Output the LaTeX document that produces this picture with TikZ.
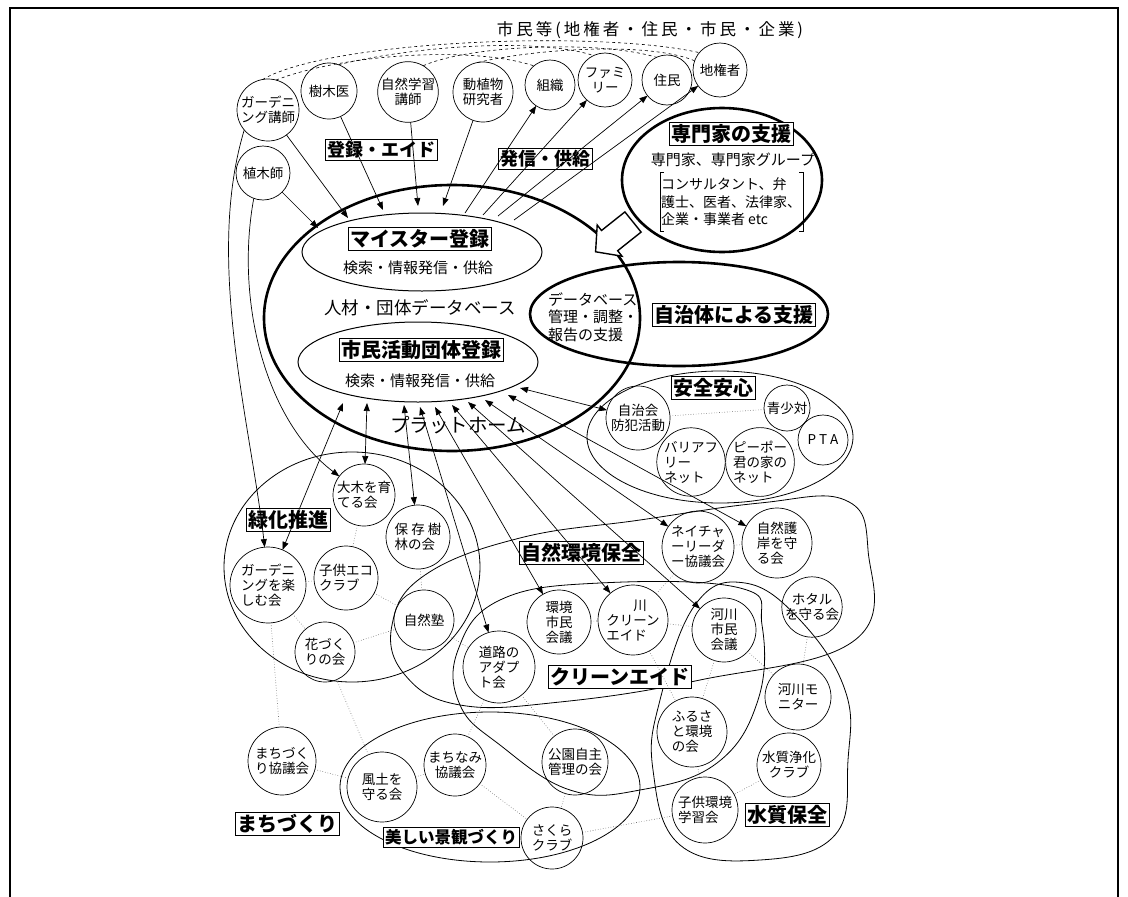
\documentclass[tikz,border=0pt]{standalone}
\usepackage{fontspec}
\setmainfont{Noto Sans CJK JP}
\usetikzlibrary{shapes.geometric,shapes.arrows,arrows.meta}
\begin{document}
\begin{tikzpicture}[x=1pt,y=-1pt,
  every node/.style={inner sep=0pt,outer sep=0pt},
  cc/.style={circle,draw,line width=0.7pt,minimum size=#1,font=\fontsize{13.5}{15}\selectfont,align=center},
  ccl/.style={cc=#1,align=left},
  lab/.style={draw,line width=0.8pt,fill=white,inner xsep=2pt,inner ysep=2pt,font=\fontsize{20}{22}\selectfont\bfseries},
  labt/.style={draw,line width=0.8pt,inner xsep=2pt,inner ysep=2pt,font=\fontsize{18}{20}\selectfont\bfseries},
  thk/.style={draw,line width=2.6pt},
  grp/.style={draw,line width=0.8pt},
  arr/.style={line width=0.7pt,-{Triangle[length=8pt,width=6pt]}},
  barr/.style={line width=0.7pt,{Triangle[length=8pt,width=6pt]}-{Triangle[length=8pt,width=6pt]}},
  dotl/.style={dotted,line width=0.6pt,black!60},
  dsh/.style={dashed,line width=0.6pt},
  txt/.style={font=\fontsize{15}{17.5}\selectfont}
]
\useasboundingbox (0,0) rectangle (1128,897);
\draw[line width=1.3pt] (10,905) -- (10,8) -- (1118,8) -- (1118,905);

% ---------- title and top circles
\node[font=\fontsize{16.5}{18}\selectfont\addfontfeature{LetterSpace=18}] (title) at (650,30) {市民等(地権者・住民・市民・企業)};
\node[cc=62] (garK) at (268,110) {ガーデニ\\ング講師};
\node[cc=56] (jumoku) at (329,91) {樹木医};
\node[cc=60] (shizenK) at (408,92) {自然学習\\講師};
\node[cc=60] (dosho) at (483,92) {動植物\\研究者};
\node[cc=50] (soshiki) at (550,85) {組織};
\node[cc=54] (family) at (605,80) {ファミ\\リー};
\node[cc=50] (jumin) at (667,80) {住民};
\node[cc=54] (chiken) at (720,70) {地権者};
\node[cc=54] (uekishi) at (263,173) {植木師};

\draw[dsh] (garK.100) .. controls (330,40) and (600,30) .. (chiken.140);
\draw[dsh] (garK.75) .. controls (340,55) and (470,45) .. (soshiki.130);
\draw[dsh] (jumoku.70) .. controls (420,45) and (540,38) .. (family.115);
\draw[dsh] (shizenK.60) .. controls (470,45) and (600,40) .. (jumin.115);
\draw[dsh] (dosho.100) .. controls (540,48) and (650,42) .. (chiken.160);

% ---------- platform
\node[ellipse,thk,minimum width=376,minimum height=266] (plat) at (452,318) {};
\node[ellipse,draw,line width=1pt,minimum width=240,minimum height=78] (meisE) at (422,252) {};
\node[ellipse,draw,line width=1pt,minimum width=240,minimum height=80] (shimE) at (418,362) {};
\node[lab] (meisL) at (420,239) {マイスター登録};
\node[txt] (meisT) at (418,268) {検索・情報発信・供給};
\node[font=\fontsize{17.5}{20}\selectfont] (jinzai) at (420,308) {人材・団体データベース};
\node[lab] (shimL) at (421,350) {市民活動団体登録};
\node[txt] (shimT) at (420,381) {検索・情報発信・供給};
\node[font=\fontsize{19.5}{22}\selectfont] (platT) at (458,425) {プラットホーム};

% ---------- experts
\node[ellipse,thk,minimum width=200,minimum height=144] (senE) at (722,180) {};
\node[lab] (senL) at (731,134) {専門家の支援};
\node[txt] (senT) at (733,160) {専門家、専門家グループ};
\node[align=left,font=\fontsize{14}{17.5}\selectfont] (senB) at (731,202) {コンサルタント、弁\\護士、医者、法律家、\\企業・事業者 etc};
\draw[line width=0.6pt] (664,172) -- (660,172) -- (660,231) -- (664,231);
\draw[line width=0.6pt] (799,172) -- (803,172) -- (803,231) -- (799,231);
% hollow block arrow pointing to the platform
\draw[line width=1.4pt,fill=white,line join=miter] (595.6,251.8) -- (622.0,256.2) -- (617.7,250.7) -- (641.1,232.1) -- (624.9,211.9) -- (601.5,230.5) -- (597.2,225.0) -- cycle;

% ---------- municipality
\node[ellipse,thk,minimum width=298,minimum height=104] (jitE) at (679,314) {};
\node[align=left,txt] (jitT) at (593,317) {データベース\\管理・調整・\\報告の支援};
\node[lab] (jitL) at (734,315) {自治体による支援};

% ---------- labels top arrows
\node[labt] (torokuL) at (381,150) {登録・エイド};
\node[labt] (hasshinL) at (545,159) {発信・供給};

\coordinate (t1) at (348,218);
\coordinate (t2) at (318,228);
\coordinate (t3) at (383,210);
\coordinate (t4) at (418,206);
\coordinate (t5) at (443,206);
\coordinate (f1) at (465,213);
\coordinate (f2) at (483,215);
\coordinate (f3) at (498,216);
\coordinate (f4) at (514,220);
\draw[arr] (garK) -- (t1);
\draw[arr] (uekishi) -- (t2);
\draw[arr] (jumoku) -- (t3);
\draw[arr] (shizenK) -- (t4);
\draw[arr] (dosho) -- (t5);
\draw[arr] (f1) -- (soshiki);
\draw[arr] (f2) -- (family);
\draw[arr] (f3) -- (jumin);
\draw[arr] (f4) -- (chiken);

% ---------- safety group
\node[ellipse,grp,minimum width=266,minimum height=132] (anzenE) at (720,437) {};
\node[lab] (anzenL) at (713,388) {安全安心};
\node[cc=64] (jichi) at (638,418) {自治会\\防犯活動};
\node[cc=46] (seisho) at (787,408) {青少対};
\node[cc=50] (pta) at (823,440) {P T A};
\node[ccl=68] (barrier) at (691,462) {バリアフ\\リー\\ネット};
\node[ccl=68] (pipo) at (760,462) {ピーポー\\君の家の\\ネット};
\draw[dotl] (jichi) -- (seisho);
\draw[dotl] (pta) -- (pipo);
\draw[dotl] (barrier) -- (pipo);

% ---------- greening group
\node[ellipse,grp,minimum width=256,minimum height=230] (ryokuE) at (352,567) {};
\node[lab] (ryokuL) at (288,520) {緑化推進};
\node[ccl=62] (oogi) at (364,495) {大木を育\\てる会};
\node[ccl=64] (hozon) at (418,537) {保 存 樹\\林の会};
\node[ccl=76] (gardenT) at (268,585) {ガーデニ\\ングを楽\\しむ会};
\node[ccl=64] (eco) at (346,578) {子供エコ\\クラブ};
\node[cc=60] (juku) at (424,620) {自然塾};
\node[ccl=60] (hana) at (325,652) {花づく\\りの会};

% ---------- nature / clean / water groups
\draw[grp] plot[smooth cycle,tension=0.7] coordinates {(392,625) (425,575) (520,538) (640,520) (760,503) (845,500) (868,550) (855,640) (700,680) (560,702) (460,705) (405,675)};
\draw[grp] plot[smooth cycle,tension=0.7] coordinates {(458,650) (500,600) (600,583) (740,588) (762,625) (758,700) (717,763) (640,790) (570,790) (500,745) (460,705)};
\draw[grp] plot[smooth cycle,tension=0.7] coordinates {(695,605) (745,583) (800,620) (845,690) (848,760) (835,835) (760,860) (680,845) (653,770) (660,700)};
\node[lab] (shizenL) at (581,553) {自然環境保全};
\node[lab] (cleanL) at (620,677) {クリーンエイド};
\node[lab] (suiL) at (787,815) {水質保全};
\node[cc=72] (nature) at (698,547) {ネイチャ\\ーリーダ\\ー協議会};
\node[ccl=70] (gogan) at (777,543) {自然護\\岸を守\\る会};
\node[cc=60] (hotaru) at (812,607) {ホタル\\を守る会};
\node[cc=64] (kankyo) at (559,622) {環境\\市民\\会議};
\node[ccl=70] (kawaC) at (633,620) {\hspace{2em}川\\クリーン\\エイド};
\node[cc=64] (kasen) at (724,630) {河川\\市民\\会議};
\node[ccl=72] (doro) at (499,667) {道路の\\アダプ\\ト会};
\node[ccl=66] (monitor) at (798,697) {河川モ\\ニター};
\node[ccl=70] (furusato) at (692,732) {ふるさ\\と環境\\の会};
\node[cc=64] (suishitsu) at (789,765) {水質浄化\\クラブ};
\node[ccl=66] (kodomoK) at (705,810) {子供環境\\学習会};

% ---------- town / landscape
\node[ellipse,grp,minimum width=300,minimum height=150] (keikanE) at (490,787) {};
\node[cc=68] (machiK) at (282,761) {まちづく\\り協議会};
\node[cc=70] (fudo) at (382,787) {風土を\\守る会};
\node[cc=62] (machinami) at (455,765) {まちなみ\\協議会};
\node[cc=66] (koen) at (575,762) {公園自主\\管理の会};
\node[cc=62] (sakura) at (552,838) {さくら\\クラブ};
\node[lab] (machiL) at (287,824) {まちづくり};
\node[lab,font=\fontsize{16.5}{18}\selectfont\bfseries] (keikanL) at (451,837) {美しい景観づくり};

% ---------- dotted links
\draw[dotl] (oogi) -- (eco);
\draw[dotl] (gardenT) -- (eco);
\draw[dotl] (eco) -- (juku);
\draw[dotl] (hozon) -- (juku);
\draw[dotl] (hana) -- (juku);
\draw[dotl] (gardenT) -- (hana);
\draw[dotl] (gardenT) -- (machiK);
\draw[dotl] (hana) -- (fudo);
\draw[dotl] (machiK) -- (fudo);
\draw[dotl] (fudo) -- (machinami);
\draw[dotl] (machinami) -- (doro);
\draw[dotl] (doro) -- (koen);
\draw[dotl] (machinami) -- (sakura);
\draw[dotl] (koen) -- (sakura);
\draw[dotl] (sakura) -- (kodomoK);
\draw[dotl] (juku) -- (doro);
\draw[dotl] (kankyo) -- (kawaC);
\draw[dotl] (kawaC) -- (kasen);
\draw[dotl] (nature) -- (kawaC);
\draw[dotl] (nature) -- (gogan);
\draw[dotl] (kawaC) -- (furusato);
\draw[dotl] (kasen) -- (furusato);
\draw[dotl] (kasen) -- (monitor);
\draw[dotl] (hotaru) -- (monitor);
\draw[dotl] (monitor) -- (suishitsu);
\draw[dotl] (furusato) -- (kodomoK);
\draw[dotl] (suishitsu) -- (kodomoK);

% ---------- platform to groups
\coordinate (b1) at (343,403);
\coordinate (b2) at (367,403);
\coordinate (b3) at (404,405);
\coordinate (b4) at (420,407);
\coordinate (b5) at (435,407);
\coordinate (b6) at (452,405);
\coordinate (b7) at (468,402);
\coordinate (b8) at (485,400);
\coordinate (b9) at (508,395);
\coordinate (b10) at (520,388);
\draw[barr] (b1) -- (gardenT);
\draw[barr] (b2) -- (oogi);
\draw[barr] (b3) -- (hozon);
\draw[barr] (b4) -- (doro);
\draw[barr] (b5) -- (kankyo);
\draw[barr] (b6) -- (kawaC);
\draw[barr] (b7) -- (kasen);
\draw[barr] (b8) -- (nature);
\draw[barr] (b9) -- (gogan);
\draw[barr] (b10) -- (jichi);
\draw[arr] (uekishi.250) .. controls (235,300) and (265,420) .. (oogi);
\draw[arr] (garK.220) .. controls (205,260) and (250,420) .. (gardenT.95);
\end{tikzpicture}
\end{document}
